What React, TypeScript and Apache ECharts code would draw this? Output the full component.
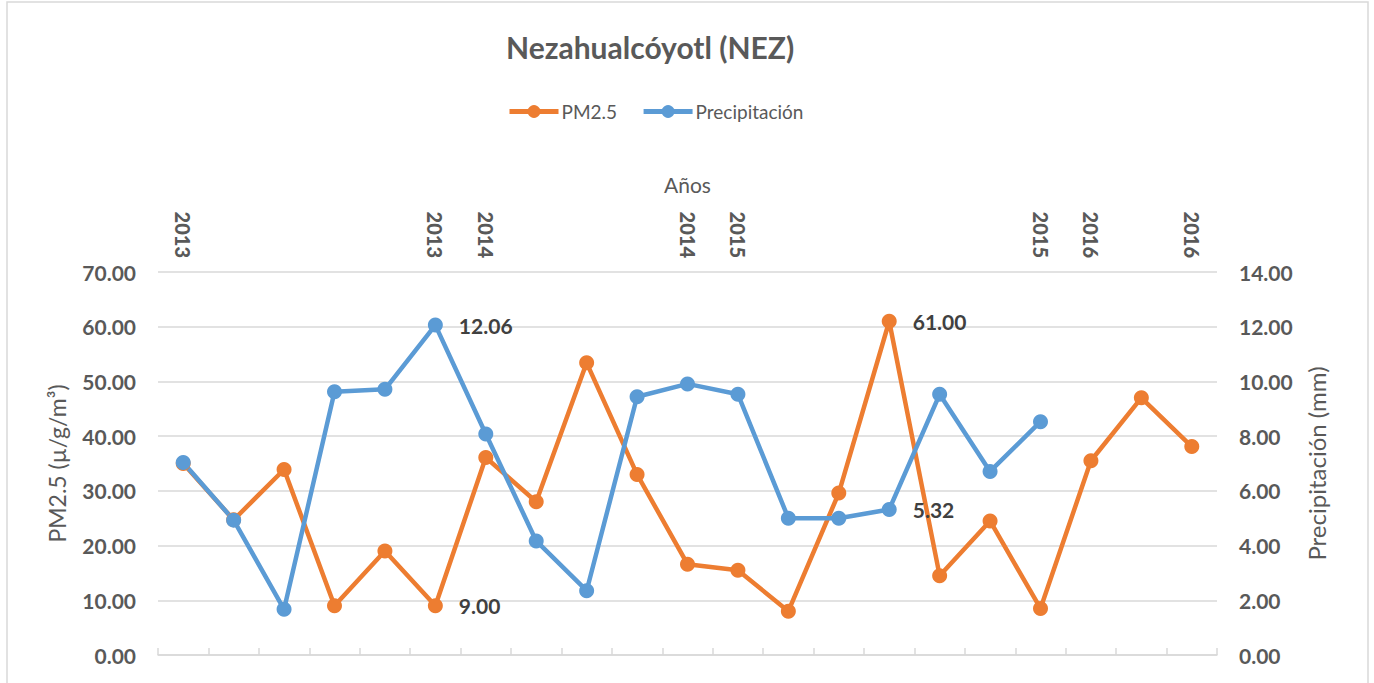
import React, { useEffect, useRef } from "react";
import * as echarts from "echarts";

const yearLabels = ["2013", "", "", "", "", "2013", "2014", "", "", "", "2014", "2015", "", "", "", "", "", "2015", "2016", "", "2016"];
const pm25 = [35.0, 24.7, 33.9, 9.0, 19.0, 9.0, 36.1, 28.0, 53.4, 33.0, 16.6, 15.5, 8.0, 29.6, 61.0, 14.5, 24.5, 8.5, 35.5, 47.0, 38.1];
const precip = [7.04, 4.93, 1.67, 9.62, 9.71, 12.06, 8.08, 4.17, 2.35, 9.44, 9.91, 9.53, 5.0, 5.0, 5.32, 9.53, 6.71, 8.53, null, null, null];
const pmLabeled = [5, 14];
const precipLabeled = [5, 14];

const FONT = "Lato";
const GRAY = "#595959";

export default function App() {
  const ref = useRef<HTMLDivElement>(null);
  useEffect(() => {
    if (!ref.current) return;
    const chart = echarts.init(ref.current, undefined, { renderer: "svg" });
    const dataLabel = {
      show: true,
      position: "right",
      distance: 16,
      fontFamily: FONT,
      fontSize: 21,
      fontWeight: "bold",
      color: "#404040",
      formatter: (p: any) => Number(p.value).toFixed(2),
    };
    const mk = (arr: (number | null)[], labeled: number[]) =>
      arr.map((v, i) => (labeled.includes(i) && v != null ? { value: v, label: dataLabel } : v));
    chart.setOption({
      animation: false,
      textStyle: { fontFamily: FONT },
      title: {
        text: "Nezahualcóyotl (NEZ)",
        left: 506,
        top: 32,
        padding: 0,
        textStyle: { fontFamily: FONT, fontSize: 30, fontWeight: "bold", color: GRAY },
      },
      legend: {
        left: 507,
        top: 102,
        padding: 0,
        itemWidth: 49,
        itemHeight: 16,
        itemGap: 24,
        lineStyle: { width: 5 },
        textStyle: { fontFamily: FONT, fontSize: 19, color: GRAY, padding: [0, 0, 0, -2] },
        data: ["PM2.5", "Precipitación"],
      },
      graphic: [
        {
          type: "rect",
          shape: { x: 7, y: 2, width: 1361, height: 700 },
          style: { fill: "none", stroke: "#D9D9D9", lineWidth: 1.5 },
          silent: true,
        },
      ],
      grid: { left: 158, right: 157, top: 272, bottom: 28, containLabel: false },
      xAxis: {
        type: "category",
        position: "top",
        data: yearLabels,
        boundaryGap: true,
        name: "Años",
        nameLocation: "middle",
        nameGap: 77,
        nameTextStyle: { fontFamily: FONT, fontSize: 21, color: GRAY },
        axisLine: { lineStyle: { color: "#D9D9D9", width: 1.5 } },
        axisTick: { show: true, interval: 0, length: 7, lineStyle: { color: "#D9D9D9", width: 1.5 } },
        axisLabel: {
          interval: 0,
          rotate: -90,
          margin: 14,
          fontFamily: FONT,
          fontSize: 20,
          fontWeight: 900,
          color: GRAY,
        },
        splitLine: { show: false },
      },
      yAxis: [
        {
          type: "value",
          min: 0,
          max: 70,
          interval: 10,
          name: "PM2.5 (µ/g/m³)",
          nameLocation: "middle",
          nameGap: 90,
          nameTextStyle: { fontFamily: FONT, fontSize: 23, color: GRAY },
          axisLine: { show: false },
          axisTick: { show: false },
          axisLabel: {
            margin: 22,
            fontFamily: FONT,
            fontSize: 21,
            fontWeight: "bold",
            color: GRAY,
            formatter: (v: number) => v.toFixed(2),
          },
          splitLine: { lineStyle: { color: "#D9D9D9", width: 1.5 } },
        },
        {
          type: "value",
          min: 0,
          max: 14,
          interval: 2,
          name: "Precipitación (mm)",
          nameLocation: "middle",
          nameGap: 87,
          nameTextStyle: { fontFamily: FONT, fontSize: 24, color: GRAY },
          axisLine: { show: false },
          axisTick: { show: false },
          axisLabel: {
            margin: 22,
            fontFamily: FONT,
            fontSize: 21,
            fontWeight: "bold",
            color: GRAY,
            formatter: (v: number) => v.toFixed(2),
          },
          splitLine: { show: false },
        },
      ],
      series: [
        {
          name: "PM2.5",
          type: "line",
          yAxisIndex: 0,
          data: mk(pm25, pmLabeled),
          symbol: "circle",
          symbolSize: 15,
          lineStyle: { color: "#ED7D31", width: 4.5 },
          itemStyle: { color: "#ED7D31" },
        },
        {
          name: "Precipitación",
          type: "line",
          yAxisIndex: 1,
          data: mk(precip, precipLabeled),
          symbol: "circle",
          symbolSize: 15,
          lineStyle: { color: "#5B9BD5", width: 4.5 },
          itemStyle: { color: "#5B9BD5" },
        },
      ],
    });
    return () => chart.dispose();
  }, []);
  return (
    <div
      ref={ref}
      style={{ position: "absolute", left: 0, top: 0, width: 1374, height: 683, background: "#fff" }}
    />
  );
}
